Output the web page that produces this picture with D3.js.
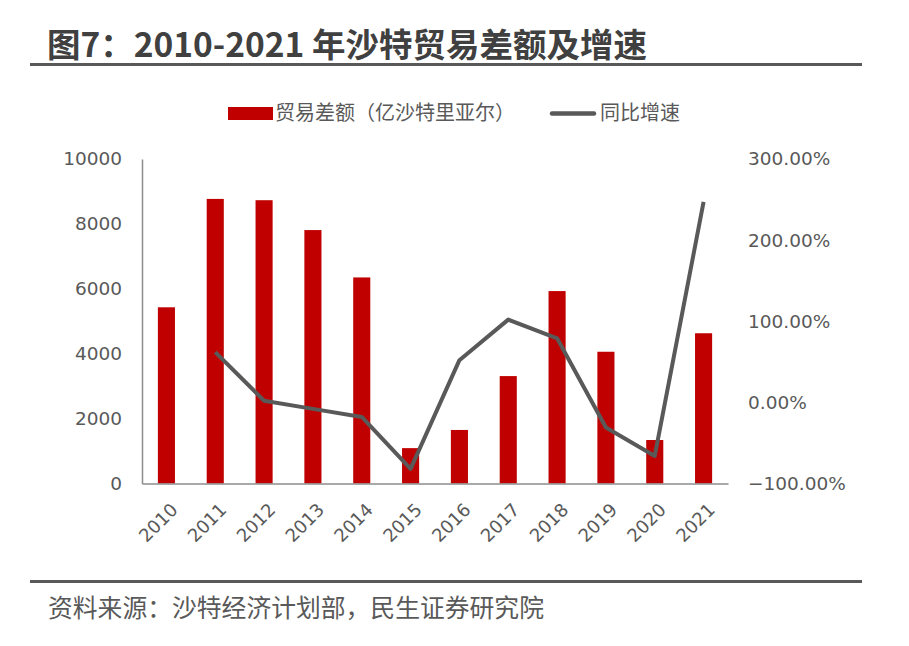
<!DOCTYPE html>
<html>
<head>
<meta charset="utf-8">
<script src="https://cdn.jsdelivr.net/npm/d3@7"></script>
<style>
  body { margin: 0; background: #fff; }
  svg text { font-family: "Noto Sans CJK SC", "Noto Sans", sans-serif; }
  svg .axis text { font-family: "DejaVu Sans", sans-serif; }
</style>
</head>
<body>
<div id="chart"></div>
<script>
// data
const years = ["2010", "2011", "2012", "2013", "2014", "2015", "2016", "2017", "2018", "2019", "2020", "2021"];
const balance = [5430, 8770, 8730, 7810, 6350, 1090, 1650, 3310, 5930, 4060, 1340, 4630];
const growth = [null, 0.62, 0.02, -0.08, -0.18, -0.82, 0.52, 1.02, 0.79, -0.31, -0.66, 2.47];
const leftTicks = [0, 2000, 4000, 6000, 8000, 10000];
const rightTicks = [-1, 0, 1, 2, 3];

const width = 909, height = 646;
const gray = "#595959";

const svg = d3.select("#chart").append("svg")
    .attr("width", width)
    .attr("height", height);

// title + rules
svg.append("text")
    .attr("x", 47).attr("y", 57)
    .style("font-size", "33.5px").style("font-weight", "bold")
    .style("fill", "#404040")
    .text("图7：2010-2021 年沙特贸易差额及增速");

svg.append("line")
    .attr("x1", 30).attr("x2", 862).attr("y1", 64.5).attr("y2", 64.5)
    .style("stroke", gray).style("stroke-width", 3);

svg.append("line")
    .attr("x1", 30).attr("x2", 862).attr("y1", 581.5).attr("y2", 581.5)
    .style("stroke", gray).style("stroke-width", 3);

svg.append("text")
    .attr("x", 48).attr("y", 617)
    .style("font-size", "24.8px").style("fill", gray)
    .text("资料来源：沙特经济计划部，民生证券研究院");

// scales
const x = d3.scaleBand().domain(years).range([142, 728]).paddingInner(0.65).paddingOuter(0.325);
const yL = d3.scaleLinear().domain([0, 10000]).range([483.5, 159]);
const yR = d3.scaleLinear().domain([-1, 3]).range([483.5, 159]);

// bars
svg.selectAll(".bar")
    .data(years)
    .enter().append("rect")
    .attr("class", "bar")
    .attr("x", d => x(d))
    .attr("width", x.bandwidth())
    .attr("y", (d, i) => yL(balance[i]))
    .attr("height", (d, i) => yL(0) - yL(balance[i]))
    .style("fill", "#C00000");

// line
const line = d3.line()
    .defined(d => d.v !== null)
    .x(d => x(d.year) + x.bandwidth() / 2)
    .y(d => yR(d.v));

svg.append("path")
    .datum(years.map((y, i) => ({ year: y, v: growth[i] })))
    .attr("fill", "none")
    .attr("stroke", gray)
    .attr("stroke-width", 4)
    .attr("stroke-linejoin", "round")
    .attr("d", line);

// axes
const leftAxis = svg.append("g")
    .attr("class", "axis")
    .attr("transform", "translate(142,0)")
    .call(d3.axisLeft(yL).tickValues(leftTicks).tickSize(0).tickPadding(20).tickFormat(d3.format("d")));
leftAxis.select(".domain").style("stroke", "#8c8c8c").style("stroke-width", 1.5);
leftAxis.selectAll("text").style("font-size", "18.5px").style("fill", gray);

const bottomAxis = svg.append("g")
    .attr("class", "axis")
    .attr("transform", "translate(0,483.5)")
    .call(d3.axisBottom(x).tickSize(0));
bottomAxis.select(".domain").style("stroke", "#8c8c8c").style("stroke-width", 1.5);
bottomAxis.selectAll("text")
    .style("font-size", "18px").style("fill", gray)
    .attr("text-anchor", "end")
    .attr("y", 0).attr("dy", "0.35em")
    .attr("transform", "translate(8,23) rotate(-45)");

const rightAxis = svg.append("g")
    .attr("class", "axis")
    .attr("transform", "translate(728,0)")
    .call(d3.axisRight(yR).tickValues(rightTicks).tickSize(0).tickPadding(20)
        .tickFormat(d => d3.format(".2f")(d * 100) + "%"));
rightAxis.select(".domain").remove();
rightAxis.selectAll("text").style("font-size", "18.5px").style("fill", gray);

// legend
const legend = svg.append("g");
legend.append("rect")
    .attr("x", 228).attr("y", 107).attr("width", 45).attr("height", 13)
    .style("fill", "#C00000");
legend.append("text")
    .attr("x", 275).attr("y", 120)
    .style("font-size", "20px").style("fill", gray)
    .text("贸易差额（亿沙特里亚尔）");
legend.append("line")
    .attr("x1", 552).attr("x2", 594).attr("y1", 113.5).attr("y2", 113.5)
    .style("stroke", gray).style("stroke-width", 4.5).attr("stroke-linecap", "round");
legend.append("text")
    .attr("x", 600).attr("y", 120)
    .style("font-size", "20px").style("fill", gray)
    .text("同比增速");
</script>
</body>
</html>
